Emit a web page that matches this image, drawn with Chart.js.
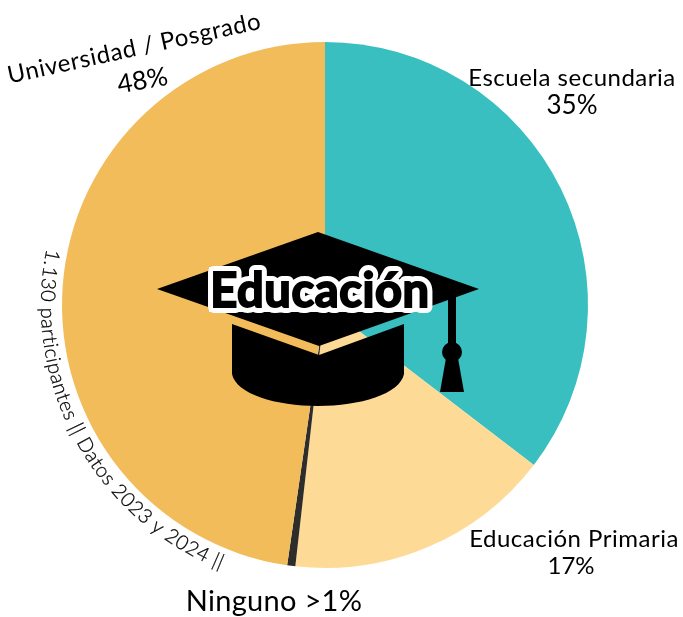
<!DOCTYPE html>
<html><head><meta charset="utf-8">
<style>html,body{margin:0;padding:0;background:#fff}canvas{display:block}</style>
<script src="https://cdn.jsdelivr.net/npm/chart.js@4"></script>
</head><body><canvas id="c" width="683" height="617"></canvas>
<script>
const categories = ["Escuela secundaria","Educación Primaria","Ninguno","Universidad / Posgrado"];
const values = [35.4,16.4,0.5,47.7];
const colors = ["#3ABFC0","#FEDA97","#2E2D29","#F2BC5B"];
const FONT = "Lato, 'Noto Sans', sans-serif";
const note = "1.130 participantes || Datos 2023 y 2024 ||";

function label(ctx, text, x, y, size, rot, spacing){
  ctx.save();ctx.translate(x,y);ctx.rotate((rot||0)*Math.PI/180);
  ctx.font="400 "+size+"px "+FONT;ctx.letterSpacing=(spacing||0)+"px";ctx.textAlign="center";ctx.textBaseline="alphabetic";
  ctx.fillStyle="#000";ctx.fillText(text,0,0);ctx.restore();
}
function arcText(ctx, text, cx, cy, R, startDeg, size, extra){
  ctx.save();ctx.font="300 "+size+"px "+FONT;ctx.fillStyle="#000";ctx.strokeStyle="#000";ctx.lineWidth=0.25;ctx.textAlign="left";ctx.textBaseline="alphabetic";
  let phi=startDeg*Math.PI/180;
  for(const ch of text){
    const w=ctx.measureText(ch).width+extra;
    ctx.save();ctx.translate(cx+R*Math.cos(phi),cy+R*Math.sin(phi));ctx.rotate(phi-Math.PI/2);ctx.fillText(ch,0,0);ctx.strokeText(ch,0,0);ctx.restore();
    phi-=w/R;
  }
  ctx.restore();
}
function poly(ctx,pts){ctx.beginPath();pts.forEach((p,i)=>i?ctx.lineTo(p[0],p[1]):ctx.moveTo(p[0],p[1]));ctx.closePath();ctx.fill();}
const decor={id:"decor",afterDraw(chart){
  const ctx=chart.ctx;const m=chart.getDatasetMeta(0).data[0];const cx=m.x,cy=m.y;
  ctx.save();ctx.fillStyle="#000";
  // birrete
  poly(ctx,[[318,232],[479,289],[319,346],[157,289]]);
  ctx.beginPath();ctx.moveTo(232,324);ctx.lineTo(319,355);ctx.lineTo(404,324);ctx.lineTo(404,374);
  ctx.bezierCurveTo(400,394,360,406,318,406);ctx.bezierCurveTo(276,406,236,394,232,374);ctx.closePath();ctx.fill();
  ctx.fillRect(448,295,8,52);
  ctx.beginPath();ctx.arc(452,352,10,0,Math.PI*2);ctx.fill();
  poly(ctx,[[446,358],[458,358],[464,392],[440,392]]);
  ctx.restore();
  // título
  ctx.save();ctx.font="700 47px "+FONT;ctx.letterSpacing="0.6px";ctx.textAlign="center";ctx.textBaseline="alphabetic";
  ctx.lineJoin="round";ctx.lineWidth=12;ctx.strokeStyle="#fff";ctx.strokeText("Educación",320,307);
  ctx.fillStyle="#fff";ctx.fillRect(209,298,221,14);ctx.fillRect(209,267,30,40);
  ctx.lineJoin="miter";ctx.lineWidth=2;ctx.strokeStyle="#000";ctx.strokeText("Educación",320,307);
  ctx.fillStyle="#000";ctx.fillText("Educación",320,307);ctx.restore();
  label(ctx,categories[0],572,86,24,0,0.5);label(ctx,"35%",572,114,26);
  label(ctx,categories[1],574,547,24,0,0.5);label(ctx,"17%",571,574,24);
  label(ctx,"Ninguno >1%",274,611,29,0,0.3);
  label(ctx,categories[3],136,56,24,-12.3,0.6);label(ctx,"48%",144,89,26,-10);
  arcText(ctx,note,cx,cy,284,191.5,20,0.55);
}};
new Chart(document.getElementById("c"),{type:"pie",
  data:{labels:categories,datasets:[{data:values,backgroundColor:colors,borderWidth:0}]},
  options:{responsive:false,animation:false,layout:{padding:{left:62,right:95,top:42,bottom:49}},
    plugins:{legend:{display:false},tooltip:{enabled:false}}},
  plugins:[decor]});
</script></body></html>
